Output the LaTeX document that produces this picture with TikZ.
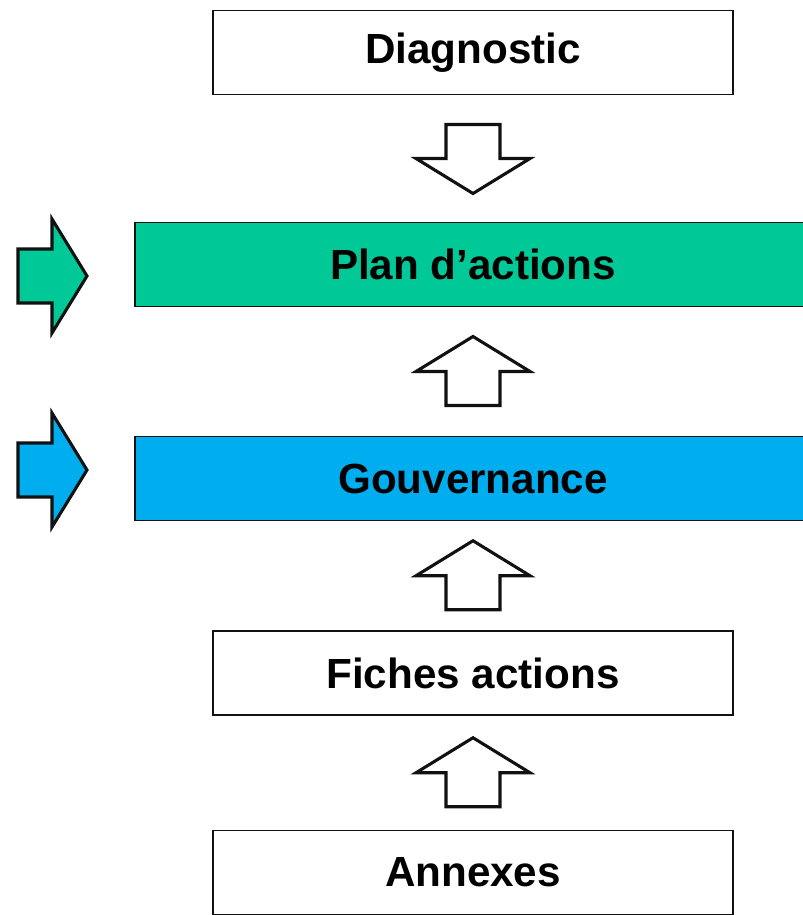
\documentclass[tikz,border=0pt]{standalone}
\usepackage{fontspec}
\setmainfont{Liberation Sans}
\usepackage{tikz}
\usetikzlibrary{calc}
\definecolor{PlanGreen}{HTML}{00C997}
\definecolor{GovBlue}{HTML}{00AEEF}
\definecolor{SketchInk}{HTML}{111111}

\begin{document}
\begin{tikzpicture}[x=0.025cm, y=-0.025cm,
  stage/.style={draw=SketchInk, line width=1.1pt, fill=white,
                minimum height=2.1cm, minimum width=13cm, inner sep=0pt,
                font=\fontsize{30}{36}\selectfont\bfseries},
  bar/.style={stage, minimum width=16.9cm},
  pics/fat/.style={code={\draw[line width=2.2pt, draw=SketchInk, fill=#1, line join=miter]
            (0,-35) -- (57,0) -- (27,0) -- (27,34) -- (-27,34) -- (-27,0) -- (-57,0) -- cycle;}},
  pics/fat/.default=white
]
\useasboundingbox (0,0) rectangle (803,915);
\node[stage] (diag) at (473,52.5) {Diagnostic};
\node[bar, fill=PlanGreen] (plan) at (473,264.5) {Plan d’actions};
\node[bar, fill=GovBlue] (gouv) at (473,478.5) {Gouvernance};
\node[stage] (fiches) at (473,673) {Fiches actions};
\node[stage] (annexes) at (473,872.5) {Annexes};
% steps between the boxes
\pic[rotate=180] at ($(diag.south)!0.5!(plan.north)$) {fat};
\pic at ($(plan.south)!0.5!(gouv.north)$) {fat};
\pic at ($(gouv.south)!0.5!(fiches.north)$) {fat};
\pic at ($(fiches.south)!0.5!(annexes.north)$) {fat};
% side arrows
\pic[rotate=-90] at (52,276) {fat=PlanGreen};
\pic[rotate=-90] at (52,470) {fat=GovBlue};
\end{tikzpicture}
\end{document}
